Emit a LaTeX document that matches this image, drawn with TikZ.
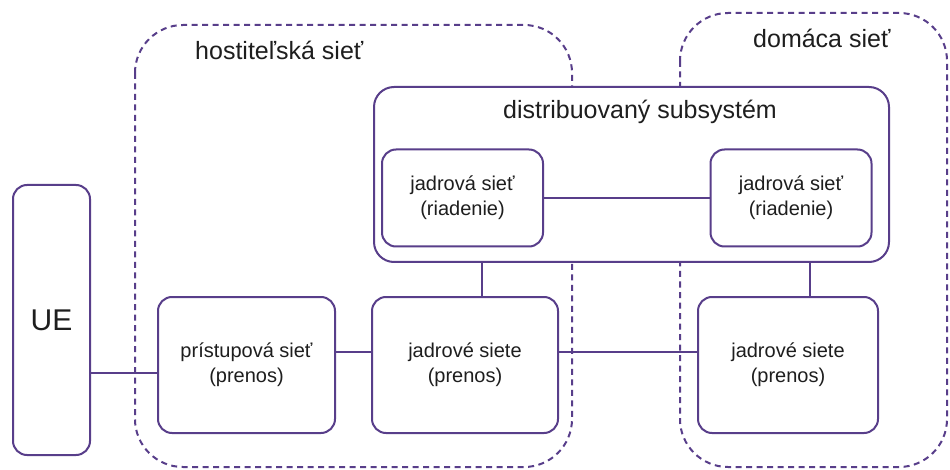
\documentclass[tikz,border=0pt]{standalone}
\usepackage{fontspec}
\setmainfont{Liberation Sans}
\definecolor{netpurple}{RGB}{88,62,138}
\definecolor{txt}{RGB}{30,30,30}
\begin{document}
\begin{tikzpicture}[x=1pt,y=-1pt,
  region/.style={draw=netpurple,line width=2pt,dash pattern=on 6pt off 4.5pt,rounded corners=48pt},
  box/.style={draw=netpurple,line width=2pt,fill=white,rounded corners=14pt,text=txt,align=center},
  link/.style={draw=netpurple,line width=2pt},
  lbl/.style={text=txt,font=\fontsize{25}{29}\selectfont},
  inner/.style={font=\fontsize{20}{25}\selectfont}]
\useasboundingbox (0,0) rectangle (950,470);
% network domains (dashed outlines)
\draw[region] (135,25) rectangle (572,467);
\draw[region] (680,13) rectangle (947,467);
\node[lbl,anchor=west,inner sep=0pt] (host) at (195,50) {hostiteľská sieť};
\node[lbl,anchor=west,inner sep=0pt] (home) at (753,38) {domáca sieť};
% distributed subsystem container
\node[box,rounded corners=20pt,minimum width=515pt,minimum height=175pt,anchor=north west] (dist) at (373,86) {};
\node[lbl] (distl) at (640,112) {distribuovaný subsystém};
% control-plane core networks
\node[box,inner,minimum width=161pt,minimum height=97pt] (cl) at (462.5,198) {jadrová sieť\\(riadenie)};
\node[box,inner,minimum width=161pt,minimum height=97pt] (cr) at (791,198) {jadrová sieť\\(riadenie)};
% transport-plane boxes
\node[box,minimum width=77pt,minimum height=270pt,font=\fontsize{30}{34}\selectfont] (ue) at (51.5,320) {UE};
\node[box,inner,minimum width=177pt,minimum height=136pt] (acc) at (246.5,365) {prístupová sieť\\(prenos)};
\node[box,inner,minimum width=186pt,minimum height=136pt] (tm) at (465,365) {jadrové siete\\(prenos)};
\node[box,inner,minimum width=180pt,minimum height=136pt] (tr) at (788,365) {jadrové siete\\(prenos)};
% connections
\draw[link] (cl.east) -- (cr.west);
\draw[link] (ue.east |- 0,373) -- (acc.west |- 0,373);
\draw[link] (acc.east |- 0,352) -- (tm.west |- 0,352);
\draw[link] (tm.east |- 0,352) -- (tr.west |- 0,352);
\draw[link] (dist.south -| 482,0) -- (tm.north -| 482,0);
\draw[link] (dist.south -| 810,0) -- (tr.north -| 810,0);
\end{tikzpicture}
\end{document}
